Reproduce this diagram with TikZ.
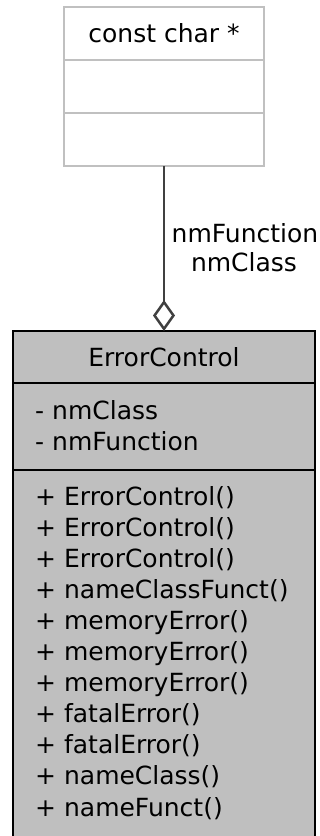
\documentclass[tikz,border=0pt]{standalone}
\usepackage{fontspec}
\setmainfont{DejaVu Sans}
\usetikzlibrary{arrows.meta}
\definecolor{boxgrey}{HTML}{BFBFBF}
\definecolor{lightborder}{HTML}{C0C0C0}
\definecolor{edgegrey}{HTML}{404040}
\begin{document}
\begin{tikzpicture}[x=1pt,y=-1pt,
  umlpart/.style={rectangle, inner sep=0pt, outer sep=0pt, anchor=north west},
  topcell/.style={umlpart, draw=lightborder, line width=2.5pt, fill=white, minimum width=200pt},
  botcell/.style={umlpart, draw=black, line width=2.8pt, fill=boxgrey, minimum width=302pt},
  botfill/.style={umlpart, fill=boxgrey, minimum width=302pt},
  txt/.style={font=\fontsize{25}{30}\selectfont, inner sep=0pt, anchor=base west},
  ctxt/.style={txt, anchor=base},
  aggr/.style={draw=edgegrey, line width=2.7pt, {Diamond[open, length=31pt, width=22pt, line width=2.5pt]}-}
]
\useasboundingbox (0,0) rectangle (320,836);
% top class box
\node[topcell, minimum height=53pt] (t1) at (64,7) {};
\node[topcell, minimum height=53pt] (t2) at (64,60) {};
\node[topcell, minimum height=53pt] (t3) at (64,113) {};
\node[ctxt] (tname) at (164,42.5) {const char *};
% bottom class box
\node[botfill, minimum height=366pt] (b3) at (13,470) {};
\draw[line width=2.8pt] (b3.south west) -- (b3.north west) -- (b3.north east) -- (b3.south east);
\node[botcell, minimum height=52pt] (b1) at (13,331) {};
\node[botcell, minimum height=87pt] (b2) at (13,383) {};
\node[ctxt] (bname) at (164,366) {ErrorControl};
\node[txt] (a1) at (35,419) {- nmClass};
\node[txt] (a2) at (35,450) {- nmFunction};
\foreach \t [count=\i from 0] in {ErrorControl(),ErrorControl(),ErrorControl(),nameClassFunct(),memoryError(),memoryError(),memoryError(),fatalError(),fatalError(),nameClass(),nameFunct()}{
  \node[txt] (m\i) at (35,{505+31.1*\i}) {+ \t};
}
% aggregation edge
\draw[aggr] (b1.north) -- (t3.south);
\node[ctxt] (l1) at (245,242) {nmFunction};
\node[ctxt] (l2) at (244,271) {nmClass};
\end{tikzpicture}
\end{document}
